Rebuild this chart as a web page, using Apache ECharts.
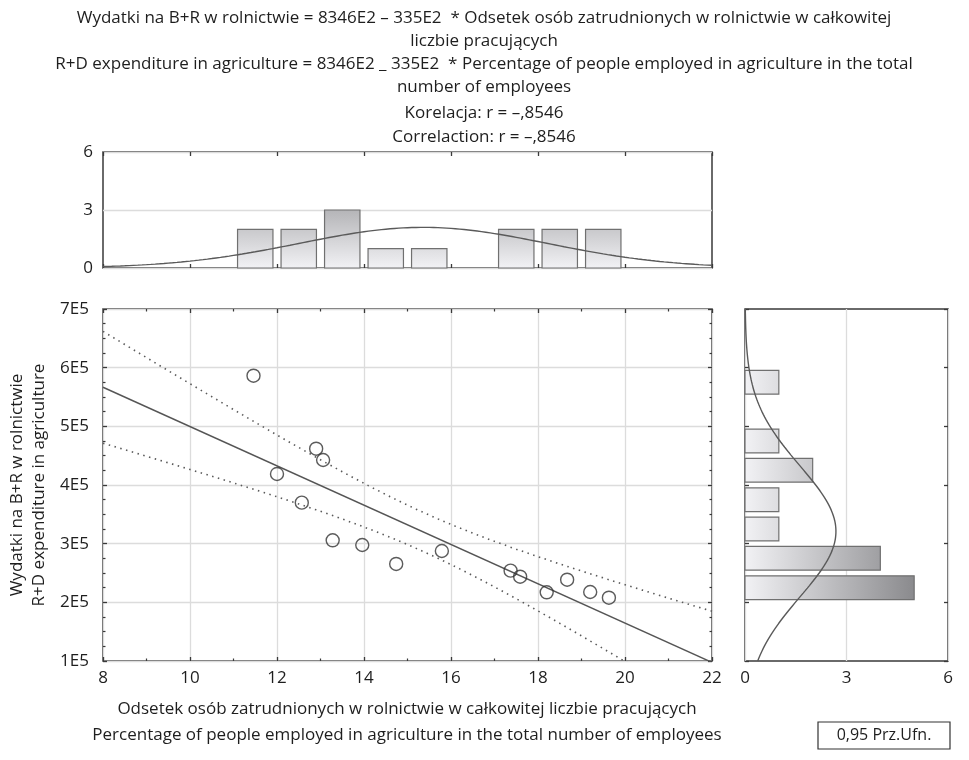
<!DOCTYPE html>
<html>
<head>
<meta charset="utf-8">
<script src="https://cdn.jsdelivr.net/npm/echarts@6/dist/echarts.min.js"></script>
<style>
  html, body { margin: 0; padding: 0; background: #fff; }
  #chart { width: 969px; height: 760px; }
</style>
</head>
<body>
<div id="chart"></div>
<script>
// Share of agricultural employment (%) vs. R+D expenditure in agriculture
const xVals = [11.46, 12.90, 13.06, 12.00, 12.57, 13.28, 13.96, 14.74, 15.79, 17.37, 17.59, 18.20, 18.67, 19.20, 19.63];
const yVals = [586300, 461900, 442600, 418800, 369900, 305700, 297700, 265400, 287500, 254000, 243700, 217100, 238600, 217600, 207900];

// Regression coefficients as stated in the heading
const intercept = 834600;
const slope = -33500;
const tCrit = 2.160; // Student t, 0.975, df = 13

// Histogram of X (bins of width 1 starting at 11)
const topBinStart = 11;
const topBinWidth = 1;
const topCounts = [2, 2, 3, 1, 1, 0, 2, 2, 2];

// Histogram of Y (bins of width 5E4 starting at 2E5)
const rightBinStart = 200000;
const rightBinWidth = 50000;
const rightCounts = [5, 4, 1, 1, 2, 1, 0, 1];

const xTicks = [8, 10, 12, 14, 16, 18, 20, 22];
const yTickLabels = ['1E5', '2E5', '3E5', '4E5', '5E5', '6E5', '7E5'];

const FONT = '"Open Sans", "Noto Sans", sans-serif';
const TXT = '#1e1e1e';
const TEXT_FONT = '17px ' + FONT;

// ---- derived statistics ----
const n = xVals.length;
const mean = a => a.reduce((s, v) => s + v, 0) / a.length;
const xMean = mean(xVals), yMean = mean(yVals);
const sxx = xVals.reduce((s, v) => s + (v - xMean) ** 2, 0);
const syy = yVals.reduce((s, v) => s + (v - yMean) ** 2, 0);
const fit = x => intercept + slope * x;
const sse = xVals.reduce((s, v, i) => s + (yVals[i] - fit(v)) ** 2, 0);
const se = Math.sqrt(sse / (n - 2));
const xSd = Math.sqrt(sxx / (n - 1));
const ySd = Math.sqrt(syy / (n - 1));

const xMin = xTicks[0], xMax = xTicks[xTicks.length - 1];
const steps = 140;
const upperBand = [], lowerBand = [], topNormal = [];
for (let i = 0; i <= steps; i++) {
  const x = xMin + (xMax - xMin) * i / steps;
  const h = tCrit * se * Math.sqrt(1 / n + (x - xMean) ** 2 / sxx);
  upperBand.push([x, fit(x) + h]);
  lowerBand.push([x, fit(x) - h]);
  const z = (x - xMean) / xSd;
  topNormal.push([x, n * topBinWidth * Math.exp(-z * z / 2) / (xSd * Math.sqrt(2 * Math.PI))]);
}
const rightNormal = [];
for (let i = 0; i <= steps; i++) {
  const y = 100000 + 600000 * i / steps;
  const z = (y - yMean) / ySd;
  rightNormal.push([n * rightBinWidth * Math.exp(-z * z / 2) / (ySd * Math.sqrt(2 * Math.PI)), y]);
}
const regLine = [[xMin, fit(xMin)], [xMax, fit(xMax)]];

const topData = topCounts.map((c, i) => [topBinStart + i * topBinWidth, topBinStart + (i + 1) * topBinWidth, c]);
const rightData = rightCounts.map((c, i) => [rightBinStart + i * rightBinWidth, rightBinStart + (i + 1) * rightBinWidth, c]);

// gray ramp for the histogram fills: darker with larger counts
function shade(v) {
  const g = Math.round(242 - 124.8 * v / 6);
  return 'rgb(' + g + ',' + g + ',' + Math.min(255, g + 3) + ')';
}

const chart = echarts.init(document.getElementById('chart'), null, { renderer: 'canvas' });

const gridBorder = { show: true, borderColor: '#3a3a3a', borderWidth: 1.5, backgroundColor: 'transparent' };
const splitStyle = { show: true, lineStyle: { color: '#dcdcdc', width: 1.3 } };
const tickIn = { show: true, inside: true, length: 4, lineStyle: { color: '#3a3a3a', width: 1.3 } };
const minorIn = k => ({ show: true, splitNumber: k, length: 2.5, lineStyle: { color: '#3a3a3a', width: 1.2 } });
const labelStyle = { color: TXT, fontFamily: FONT, fontSize: 17 };
const noLine = { show: false };

const headingLines = [
  ['Wydatki na B+R w rolnictwie = 8346E2 – 335E2  * Odsetek osób zatrudnionych w rolnictwie w całkowitej', 18],
  ['liczbie pracujących', 41],
  ['R+D expenditure in agriculture = 8346E2 _ 335E2  * Percentage of people employed in agriculture in the total', 64],
  ['number of employees', 87],
  ['Korelacja: r = –,8546', 113],
  ['Correlaction: r = –,8546', 137]
];

const option = {
  animation: false,
  backgroundColor: '#fff',
  grid: [
    Object.assign({ left: 103, top: 309, width: 609, height: 352 }, gridBorder),
    Object.assign({ left: 103, top: 152, width: 609, height: 116 }, gridBorder),
    Object.assign({ left: 745, top: 309, width: 203, height: 352 }, gridBorder)
  ],
  xAxis: [
    { gridIndex: 0, type: 'value', min: xMin, max: xMax, interval: 2, position: 'bottom',
      axisLine: noLine, axisTick: tickIn, minorTick: minorIn(2), splitLine: splitStyle,
      axisLabel: Object.assign({ margin: 9 }, labelStyle) },
    { gridIndex: 0, type: 'value', min: xMin, max: xMax, interval: 2, position: 'top',
      axisLine: noLine, axisTick: tickIn, minorTick: minorIn(2), splitLine: { show: false },
      axisLabel: { show: false } },
    { gridIndex: 1, type: 'value', min: xMin, max: xMax, interval: 2, position: 'bottom',
      axisLine: noLine, axisTick: tickIn, splitLine: { show: false }, axisLabel: { show: false } },
    { gridIndex: 1, type: 'value', min: xMin, max: xMax, interval: 2, position: 'top',
      axisLine: noLine, axisTick: tickIn, splitLine: { show: false }, axisLabel: { show: false } },
    { gridIndex: 2, type: 'value', min: 0, max: 6, interval: 3, position: 'bottom',
      axisLine: noLine, axisTick: { show: false }, splitLine: splitStyle,
      axisLabel: Object.assign({ margin: 9 }, labelStyle) }
  ],
  yAxis: [
    { gridIndex: 0, type: 'value', min: 100000, max: 700000, interval: 100000, position: 'left',
      axisLine: noLine, axisTick: tickIn, minorTick: minorIn(4), splitLine: splitStyle,
      axisLabel: Object.assign({ margin: 14, formatter: v => yTickLabels[Math.round(v / 100000) - 1] }, labelStyle) },
    { gridIndex: 0, type: 'value', min: 100000, max: 700000, interval: 100000, position: 'right',
      axisLine: noLine, axisTick: tickIn, minorTick: minorIn(4), splitLine: { show: false },
      axisLabel: { show: false } },
    { gridIndex: 1, type: 'value', min: 0, max: 6, interval: 3, position: 'left',
      axisLine: noLine, axisTick: { show: false }, splitLine: splitStyle,
      axisLabel: Object.assign({ margin: 10 }, labelStyle) },
    { gridIndex: 2, type: 'value', min: 100000, max: 700000, interval: 100000, position: 'left',
      axisLine: noLine, axisTick: tickIn, splitLine: { show: false }, axisLabel: { show: false } },
    { gridIndex: 2, type: 'value', min: 100000, max: 700000, interval: 100000, position: 'right',
      axisLine: noLine, axisTick: tickIn, splitLine: { show: false }, axisLabel: { show: false } }
  ],
  series: [
    { type: 'line', name: 'upper', xAxisIndex: 0, yAxisIndex: 0, data: upperBand, showSymbol: false, clip: true,
      lineStyle: { color: '#5a5a5a', width: 1.6, type: [1.5, 4.5] }, z: 3 },
    { type: 'line', name: 'lower', xAxisIndex: 0, yAxisIndex: 0, data: lowerBand, showSymbol: false, clip: true,
      lineStyle: { color: '#5a5a5a', width: 1.6, type: [1.5, 4.5] }, z: 3 },
    { type: 'line', name: 'fit', xAxisIndex: 0, yAxisIndex: 0, data: regLine, showSymbol: false, clip: true,
      lineStyle: { color: '#555', width: 1.4 }, z: 4 },
    { type: 'scatter', name: 'points', xAxisIndex: 0, yAxisIndex: 0,
      data: xVals.map((x, i) => [x, yVals[i]]), symbol: 'circle', symbolSize: 13,
      itemStyle: { color: 'rgba(255,255,255,0)', borderColor: '#333', borderWidth: 1.4 }, z: 5 },
    { type: 'custom', name: 'xHist', xAxisIndex: 2, yAxisIndex: 2, data: topData,
      encode: { x: [0, 1], y: 2 }, z: 2,
      renderItem: function (params, api) {
        const a = api.value(0), b = api.value(1), c = api.value(2);
        if (!c) return null;
        const pad = (b - a) * 0.093;
        const p0 = api.coord([a + pad, 0]);
        const p1 = api.coord([b - pad, c]);
        return { type: 'rect',
          shape: { x: p0[0], y: p1[1], width: p1[0] - p0[0], height: p0[1] - p1[1] },
          style: { fill: new echarts.graphic.LinearGradient(0, 0, 0, 1, [
            { offset: 0, color: shade(c) }, { offset: 1, color: shade(0) }]),
            stroke: '#707070', lineWidth: 1.2 } };
      } },
    { type: 'line', name: 'xNormal', xAxisIndex: 2, yAxisIndex: 2, data: topNormal, showSymbol: false,
      lineStyle: { color: '#5a5a5a', width: 1.4 }, z: 4 },
    { type: 'custom', name: 'yHist', xAxisIndex: 4, yAxisIndex: 3, data: rightData,
      encode: { x: 2, y: [0, 1] }, z: 2,
      renderItem: function (params, api) {
        const a = api.value(0), b = api.value(1), c = api.value(2);
        if (!c) return null;
        const pad = (b - a) * 0.095;
        const p0 = api.coord([0, a + pad]);
        const p1 = api.coord([c, b - pad]);
        return { type: 'rect',
          shape: { x: p0[0], y: p1[1], width: p1[0] - p0[0], height: p0[1] - p1[1] },
          style: { fill: new echarts.graphic.LinearGradient(0, 0, 1, 0, [
            { offset: 0, color: shade(0) }, { offset: 1, color: shade(c) }]),
            stroke: '#707070', lineWidth: 1.2 } };
      } },
    { type: 'line', name: 'yNormal', xAxisIndex: 4, yAxisIndex: 3, data: rightNormal, showSymbol: false,
      lineStyle: { color: '#5a5a5a', width: 1.4 }, z: 4 }
  ],
  graphic: [
    // heading
    ...headingLines.map(([t, y]) => ({ type: 'text', x: 484, y: y,
      style: { text: t, fill: TXT, font: TEXT_FONT, textAlign: 'center', textVerticalAlign: 'middle' } })),
    // axis titles
    { type: 'text', x: 407, y: 709,
      style: { text: 'Odsetek osób zatrudnionych w rolnictwie w całkowitej liczbie pracujących',
        fill: TXT, font: TEXT_FONT, textAlign: 'center', textVerticalAlign: 'middle' } },
    { type: 'text', x: 407, y: 735,
      style: { text: 'Percentage of people employed in agriculture in the total number of employees',
        fill: TXT, font: TEXT_FONT, textAlign: 'center', textVerticalAlign: 'middle' } },
    { type: 'text', x: 17, y: 485, rotation: Math.PI / 2,
      style: { text: 'Wydatki na B+R w rolnictwie', fill: TXT, font: TEXT_FONT,
        textAlign: 'center', textVerticalAlign: 'middle' } },
    { type: 'text', x: 39, y: 485, rotation: Math.PI / 2,
      style: { text: 'R+D expenditure in agriculture', fill: TXT, font: TEXT_FONT,
        textAlign: 'center', textVerticalAlign: 'middle' } },
    // confidence level box
    { type: 'rect', shape: { x: 818, y: 722, width: 132, height: 27 },
      style: { fill: '#fff', stroke: '#333', lineWidth: 1.2 } },
    { type: 'text', x: 884, y: 735.5,
      style: { text: '0,95 Prz.Ufn.', fill: TXT, font: '16px ' + FONT, textAlign: 'center', textVerticalAlign: 'middle' } }
  ]
};

chart.setOption(option);
</script>
</body>
</html>
